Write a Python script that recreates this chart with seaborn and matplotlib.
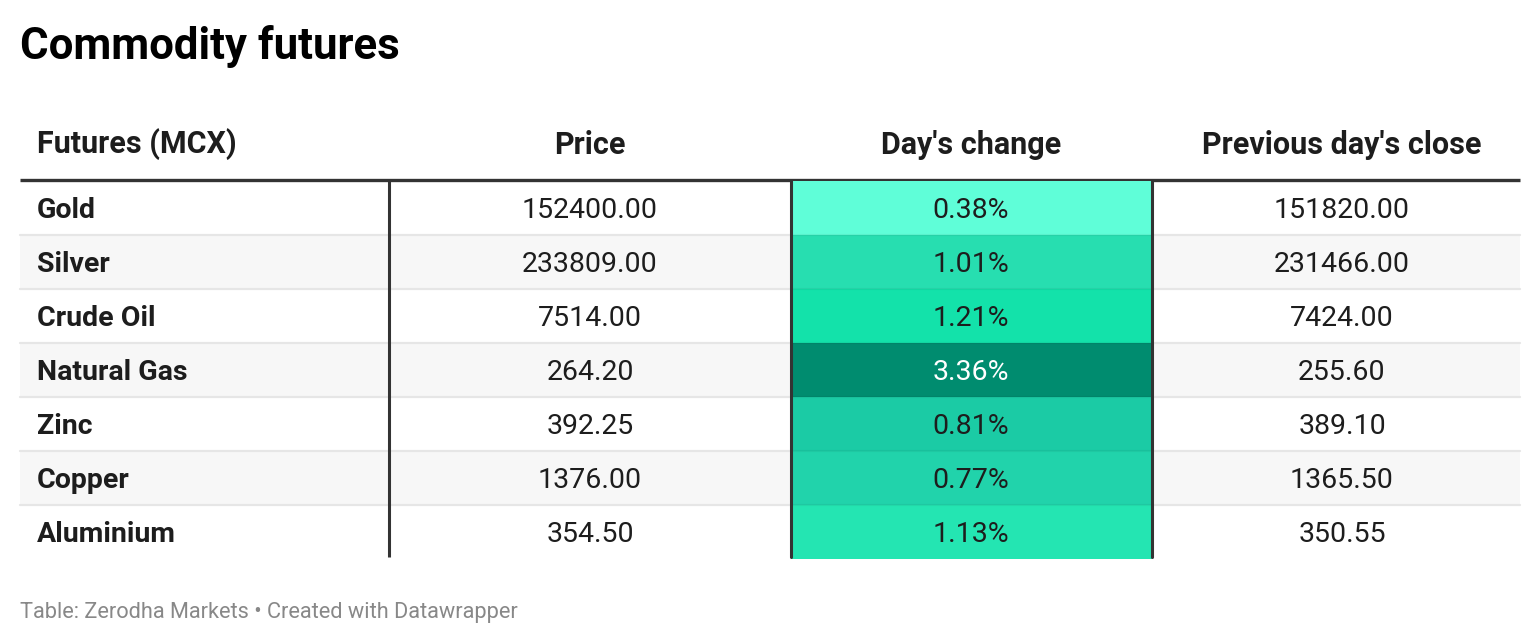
import numpy as np
import matplotlib
matplotlib.use("Agg")
import matplotlib.pyplot as plt
from matplotlib.colors import LinearSegmentedColormap
import seaborn as sns

sns.set_style("white")
plt.rcParams['font.family'] = ['Roboto', 'DejaVu Sans']

# data
futures = ["Gold", "Silver", "Crude Oil", "Natural Gas", "Zinc", "Copper", "Aluminium"]
price = [152400.00, 233809.00, 7514.00, 264.20, 392.25, 1376.00, 354.50]
day_change = [0.38, 1.01, 1.21, 3.36, 0.81, 0.77, 1.13]
prev_close = [151820.00, 231466.00, 7424.00, 255.60, 389.10, 1365.50, 350.55]
headers = ["Futures (MCX)", "Price", "Day's change", "Previous day's close"]

# colours used by the source for the change column
cell_colors = ["#5ffed8", "#27deb0", "#13e2aa", "#008c6f", "#19c8a4", "#20d3aa", "#24e5b2"]

W, H = 1540, 644
fig = plt.figure(figsize=(W / 100, H / 100), dpi=100)
ax = fig.add_axes([0, 0, 1, 1])
ax.set_xlim(0, W)
ax.set_ylim(H, 0)
ax.axis("off")

left, right = 20, 1520
col_edges = [20, 389, 791, 1152, 1520]
col_centers = [None, 590, 971, 1342]
top = 181
row_h = 54.0
n = len(futures)
bottom = top + row_h * n
txt = "#1d1d1d"
fs_head = 22
fs_body = 20.5

ax.text(20, 46, "Commodity futures", fontsize=31.5, fontweight="bold", color="#000000",
        va="center", ha="left")

# header
hy = 144.5
ax.text(37, hy, headers[0], fontsize=fs_head, fontweight="bold", color=txt, va="center", ha="left")
for i in range(1, 4):
    ax.text(col_centers[i], hy, headers[i], fontsize=fs_head, fontweight="bold", color=txt,
            va="center", ha="center")

# striped rows + separators
for r in range(n):
    y0 = top + r * row_h
    if r % 2 == 1:
        ax.fill_between([left, right], y0, y0 + row_h, color="#f7f7f7", lw=0, zorder=0)
    if r > 0:
        ax.plot([left, right], [y0, y0], color="#e6e6e6", lw=1.6, zorder=1)

# heatmap column
fx0 = col_edges[2] / W
fx1 = col_edges[3] / W
hax = fig.add_axes([fx0, 1 - bottom / H, fx1 - fx0, (bottom - top) / H])
order = np.argsort(day_change)
vmin, vmax = min(day_change), max(day_change)
anchors = [((day_change[k] - vmin) / (vmax - vmin), cell_colors[k]) for k in order]
cmap = LinearSegmentedColormap.from_list("chg", anchors)
sns.heatmap(np.array(day_change).reshape(-1, 1), ax=hax, cmap=cmap, vmin=vmin, vmax=vmax,
            cbar=False, annot=False, xticklabels=False, yticklabels=False)
for r in range(1, n):
    hax.axhline(r, color=(0, 0, 0, 0.05), lw=1.6)
hax.axis("off")

# body text
for r in range(n):
    cy = top + r * row_h + row_h / 2 + 2.5
    ax.text(37, cy, futures[r], fontsize=fs_body, fontweight="bold", color=txt, va="center", ha="left")
    ax.text(col_centers[1], cy, f"{price[r]:.2f}", fontsize=fs_body,
            color=txt, va="center", ha="center")
    ax.text(col_centers[3], cy, f"{prev_close[r]:.2f}", fontsize=fs_body,
            color=txt, va="center", ha="center")
    dc = "#ffffff" if day_change[r] == vmax else txt
    fig.text(col_centers[2] / W, 1 - cy / H, f"{day_change[r]:.2f}%", fontsize=fs_body,
             color=dc, va="center", ha="center", zorder=20)

# header rule + column rules
ax.plot([left, right], [top - 1, top - 1], color="#333333", lw=2.4, zorder=5, solid_capstyle="butt")
ax.plot([col_edges[1]] * 2, [top - 1, bottom - 2], color="#333333", lw=2.2, zorder=5,
        solid_capstyle="butt")
for x in col_edges[2:4]:
    fig.add_artist(plt.Line2D([x / W] * 2, [1 - (top - 1) / H, 1 - (bottom - 2) / H],
                              color="#333333", lw=2.2, transform=fig.transFigure, zorder=10))

ax.text(20, 612.5, "Table: Zerodha Markets \u2022 Created with Datawrapper", fontsize=15.7,
        color="#888888", va="center", ha="left")

fig.savefig("out.png", dpi=100)
